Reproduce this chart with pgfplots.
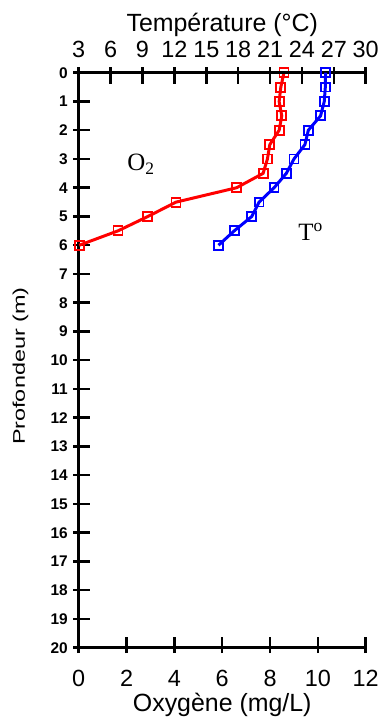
\documentclass[border=0pt]{standalone}
\usepackage{fontspec}
\setmainfont{Liberation Sans}
\newfontfamily\tnr{Liberation Serif}
\usepackage{graphicx}
\usepackage{pgfplots}
\usepackage{pgfplotstable}
\pgfplotsset{compat=1.18}

\pgfplotstableread{
depth oxy
0   8.58
0.5 8.45
1   8.38
1.5 8.49
2   8.38
2.5 7.99
3   7.89
3.5 7.71
4   6.60
4.5 4.07
5   2.89
5.5 1.64
6   0.02
}\oxytable

\pgfplotstableread{
depth temp
0   26.22
0.5 26.20
1   26.10
1.5 25.75
2   24.60
2.5 24.28
3   23.25
3.5 22.53
4   21.38
4.5 19.97
5   19.28
5.5 17.63
6   16.15
}\temptable

\definecolor{myred}{RGB}{255,0,0}
\definecolor{myblue}{RGB}{0,0,255}

\pgfplotsset{base/.style={
  scale only axis, width=288pt, height=577pt,
  ymin=0, ymax=20, y dir=reverse,
  tick align=inside, major tick length=11pt,
  major tick style={line width=2.5pt, black}}}

\begin{document}
\begin{tikzpicture}
\begin{axis}[base,
  at={(0pt,0pt)}, anchor=south west,
  xmin=0, xmax=12,
  axis x line=bottom, axis y line=left,
  xtick={0,2,...,12}, ytick={0,1,...,20},
  axis line style={-, line width=3pt, line cap=rect},
  /pgf/number format/assume math mode=true,
  xticklabel style={font=\fontsize{23.5}{24}\selectfont, anchor=base, yshift=-33.5pt},
  yticklabel style={font=\bfseries\fontsize{15.5}{16}\selectfont, anchor=east, xshift=-2pt},
  xlabel={Oxygène (mg/L)},
  xlabel style={font=\fontsize{25}{30}\selectfont, at={(axis description cs:0.5,0)}, anchor=base, yshift=-64pt},
  ylabel={\scalebox{1}[0.72]{Profondeur (m)}},
  ylabel style={font=\fontsize{23.5}{28}\selectfont, at={(axis description cs:-0.1875,0.4896)}, anchor=base},
  clip=false,
]
\pgfplotsinvokeforeach{2,4,6,8,10,12}{\draw[line width=2.5pt, black] (axis cs:#1,20) -- ++(0pt,11pt);}
\pgfplotsinvokeforeach{1,2,...,19}{\draw[line width=2.5pt, black] (axis cs:0,#1) -- ++(11pt,0pt);}
\addplot[myred, line width=3pt, mark=square, mark size=4.5pt, mark options={solid, line width=1.8pt}] table[x=oxy, y=depth] {\oxytable};
\node[font=\tnr\fontsize{25}{30}\selectfont] at (axis cs:2.6,3.19) {O\textsubscript{2}};
\node[font=\tnr\fontsize{25}{30}\selectfont] at (axis cs:9.7,5.55) {T\textsuperscript{o}};
\end{axis}
\begin{axis}[base,
  at={(0pt,0pt)}, anchor=south west,
  xmin=3, xmax=30,
  axis x line=top, axis y line=none, ytick=\empty,
  xtick={3,6,...,30},
  axis line style={-, line width=3pt, line cap=rect},
  /pgf/number format/assume math mode=true,
  xticklabel style={font=\fontsize{23.5}{24}\selectfont, anchor=base, yshift=9.5pt},
  xlabel={Température (°C)},
  xlabel style={font=\fontsize{25}{30}\selectfont, at={(axis description cs:0.5,1)}, anchor=base, yshift=41pt},
  clip=false,
]
\pgfplotsinvokeforeach{6,9,12,15,18,21,24,27,30}{\draw[line width=2.5pt, black] (axis cs:#1,0) -- ++(0pt,-11pt);}
\addplot[myblue, line width=3pt, mark=square, mark size=4.5pt, mark options={solid, line width=1.8pt}] table[x=temp, y=depth] {\temptable};
\end{axis}
\path (-79pt,-70pt) rectangle (304pt,650pt);
\end{tikzpicture}
\end{document}
